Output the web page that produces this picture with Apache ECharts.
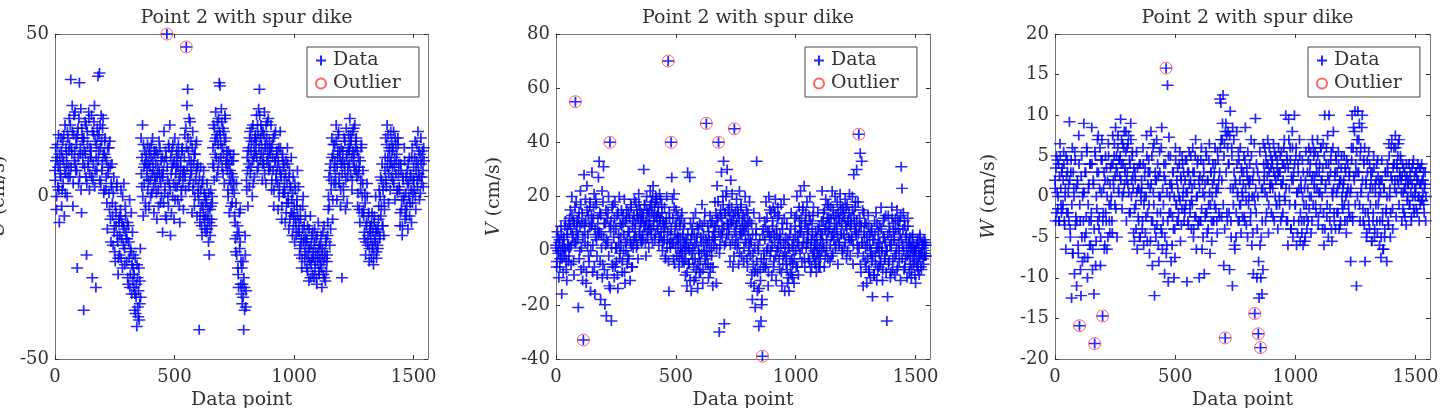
<!DOCTYPE html>
<html>
<head>
<meta charset="utf-8">
<script src="https://cdn.jsdelivr.net/npm/echarts@6/dist/echarts.min.js"></script>
<style>
  html, body { margin: 0; padding: 0; background: #fff; }
  #chart { width: 1442px; height: 408px; }
</style>
</head>
<body>
<div id="chart"></div>
<script>
// values are stored for data points 3i (first array) and 3i+1 (second array)
var STEP = 3;
var xTicks = [0, 500, 1000, 1500];

// U (cm/s)
var uValues = [
  8, 15, -4, 12, 3, 19, -8, 10, 6, 14,
  2, 17, 11, -6, 22, 7, 13, 0, 18, 9,
  24, 6, 36, 15, 28, -3, 19, 11, 26, 8,
  16, -22, 21, 4, 35, 13, 27, -5, 18, 10,
  -35, 14, 23, 6, -18, 20, 9, 26, 2, 15,
  12, 25, -25, 5, 19, 28, 8, -28, 16, 21,
  37, 14, 38, 22, 4, 17, 10, 24, 1, 13,
  18, 2, 11, -10, 7, 15, -4, 9, -14, 3,
  -2, -15, 6, -9, -20, -5, 3, -12, -24, -7,
  -18, -6, 2, -13, -22, -9, 4, -16, -3, -11,
  -20, -8, -27, -14, -1, -24, -17, -30, -11, -22,
  -28, -35, -19, -31, -40, -25, -37, -22, -33, -16,
  18, 3, 22, -6, 9, 14, -2, 11, 6, 16,
  10, -3, 15, 5, 12, 1, 18, 8, -5, 13,
  4, 14, -7, 9, 2, 17, 6, -2, 11, 7,
  -11, 8, 20, 1, -6, 12, 50, 5, -3, 15,
  22, -12, 7, 14, 0, 10, -7, 18, 3, 9,
  12, -1, 16, 5, -8, 9, 2, 14, 7, -4,
  8, 19, 2, 46, 28, 33, 14, 24, 5, 17,
  11, -5, 20, 4, 13, 0, 16, 8, -6, 10,
  3, -41, -8, 9, -3, -12, 5, -6, 1, -10,
  -2, -11, 4, -7, -14, -18, -4, 2, -9, 0,
  10, 22, 5, 17, 26, 12, 19, 8, 24, 35,
  34, 16, 27, 9, 21, 13, 4, 25, 18, 11,
  12, 2, 14, -5, 8, 4, 11, -2, 6, 13,
  1, -8, -17, 4, -12, -22, -28, -5, -14, -27,
  -30, -33, -20, -41, -28, -12, -34, 5, 12, -3,
  15, 3, 20, 9, 17, 0, 22, 12, 6, 18,
  14, 25, 8, 19, 27, 33, 11, 22, 16, 5,
  20, 10, 26, 15, 4, 18, 23, 12, 8, 17,
  13, 22, 2, 16, 8, -3, 19, 11, 5, 14,
  9, -4, 15, 3, 20, 7, -7, 12, 1, 10,
  5, -8, 11, -2, 15, 0, -10, 8, 3, -5,
  -1, -12, 6, -6, -14, 2, -9, -3, 8, -11,
  -8, -18, -4, -15, -22, -10, 0, -13, -20, -6,
  -14, -22, -9, -19, -26, -16, -6, -21, -12, -24,
  -17, -25, -10, -20, -13, -27, -18, -8, -23, -15,
  -21, -12, -28, -16, -24, -9, -19, -26, -14, -20,
  -12, -4, 6, -15, 10, 2, 18, -7, 13, 4,
  16, 7, 22, -1, 12, 19, 4, 14, -3, 10,
  -25, 11, 3, 18, 8, -4, 21, 13, 6, 15,
  14, 24, 7, 17, 2, 20, 11, 9, 22, 15,
  18, 6, -3, 12, 9, -8, 2, 15, -5, 4,
  -4, -13, 1, -18, -9, 4, -15, -6, -20, -11,
  -10, -19, -5, -15, -21, -8, -13, 0, -17, -11,
  -16, -7, 2, -12, 6, -3, 10, -9, 4, -1,
  8, 18, 3, 22, 12, -2, 15, 10, 20, 6,
  14, 5, 20, 9, -1, 16, 11, 2, 18, 7,
  3, -9, 10, -4, -12, 6, -1, 15, -7, 1,
  -6, 8, -10, 4, 12, -2, 6, -8, 15, 1,
  9, 2, 17, -4, 11, 5, 20, 7, -1, 13,
  18, 4, 12, 8, 15
];
var uValuesB = [
  5, 11, 0, 16, 9, 2, 13, 7, 18, -3,
  12, 4, 19, 8, 1, 15, 10, 20, 6, 14,
  16, 22, 9, 13, 20, 4, 25, 14, 10, 18,
  8, 19, 12, 24, 6, 15, 2, 21, 13, 17,
  18, 9, 13, 22, 4, 16, 11, 24, 7, 12,
  14, 6, 20, 10, 23, 3, 17, 12, 8, 19,
  11, 19, 5, 15, 25, 8, 21, 13, 2, 17,
  12, 6, -2, 15, 9, 1, 17, -7, 4, 10,
  -6, 1, -11, -17, -3, -9, 4, -14, -19, -8,
  -12, -4, -19, -8, 0, -15, -10, -21, -6, -13,
  -13, -25, -9, -19, -28, -16, -5, -21, -26, -18,
  -24, -30, -36, -27, -21, -34, -29, -38, -26, -31,
  7, 12, 0, 16, 4, 10, -4, 13, 8, 2,
  5, 13, 9, 0, 16, 7, 11, 3, 14, 6,
  10, 1, 6, 13, -3, 8, 15, 4, 0, 12,
  6, -2, 11, 3, 14, -7, 9, 0, 16, 4,
  2, 12, -5, 9, 16, 4, 11, -1, 7, 14,
  3, 9, 13, -3, 6, 11, 0, 15, 4, 8,
  12, 6, 21, 15, 9, 18, 3, 11, 23, 8,
  7, 15, 2, 10, -3, 13, 5, 17, 9, 1,
  -1, 6, -5, 2, -9, 4, -3, 8, -7, 0,
  -6, -1, -10, -4, 1, -8, -12, -3, -7, -2,
  15, 9, 21, 13, 18, 6, 23, 16, 11, 20,
  19, 12, 23, 15, 7, 20, 17, 24, 10, 14,
  8, 0, 10, 5, 13, -3, 7, 2, 11, 4,
  -6, -13, -2, -18, -9, -24, -11, -16, -4, -20,
  -22, -27, -31, -25, -35, -18, -29, 2, 8, 14,
  10, 18, 7, 14, 21, 11, 4, 16, 13, 19,
  17, 12, 22, 9, 15, 25, 18, 13, 20, 10,
  13, 19, 7, 16, 22, 11, 15, 24, 9, 14,
  9, 15, 5, 12, 18, 2, 11, 20, 7, 13,
  4, 11, 0, 8, 15, 6, -3, 13, 9, 2,
  1, 7, -5, 4, 10, -2, 6, -7, 3, 12,
  -5, 1, -9, -3, 4, -7, -12, -1, -6, 3,
  -11, -16, -7, -13, -19, -3, -14, -9, -17, -12,
  -18, -13, -23, -16, -10, -20, -25, -15, -19, -11,
  -19, -14, -22, -17, -25, -12, -20, -16, -24, -19,
  -15, -22, -18, -11, -20, -25, -17, -13, -23, -18,
  -8, 0, -3, 8, -10, 5, 12, -1, 16, 9,
  11, 4, 17, 9, 14, 20, 6, 12, 2, 15,
  7, 14, 0, 10, 17, 5, 12, -2, 9, 19,
  10, 16, 19, 12, 5, 14, 21, 13, 8, 17,
  9, 14, 1, 7, -4, 11, 5, 16, 0, 8,
  -6, -11, -2, -14, -8, 0, -12, -5, -16, -9,
  -13, -8, -16, -11, -18, -6, -14, -10, -19, -15,
  -10, -3, -13, 0, -6, 5, -9, 2, -12, -4,
  12, 5, 16, 9, 19, 7, 14, 2, 11, 17,
  9, 15, 4, 12, 18, 7, 13, 1, 16, 10,
  2, -5, 8, -1, -9, 5, 0, 11, -4, 6,
  -3, 4, 10, 0, -6, 7, 2, 12, -2, 5,
  5, 12, 0, 8, 16, 3, 10, 14, 6, 1,
  10, 6, 14, 3, 11
];

// V (cm/s)
var vValues = [
  2, -6, 7, 0, -10, 4, -3, 9, -16, 1,
  -8, 5, 1, 11, -4, -11, 8, 2, -2, 12,
  15, -5, 20, 6, 11, -9, 3, 55, 18, 9,
  4, -21, 14, 0, 22, -7, 10, -11, -33, 28,
  7, 19, -12, 24, 2, 13, -4, 16, -15, 9,
  29, -8, 12, 21, -16, 5, 17, -2, 8, 27,
  33, 14, -18, 6, 22, -5, 31, 10, -20, 2,
  -24, 12, 3, 20, -13, 40, 7, -26, 16, -6,
  9, -10, 18, 1, -4, 13, -14, 6, 20, -1,
  5, 15, -8, 10, 0, 19, -12, 3, 12, -5,
  -2, 14, 7, -11, 17, 2, -6, 11, 4, 19,
  8, 18, 1, 13, -3, 21, 6, 15, 10, 3,
  12, 4, 30, 17, 9, -2, 20, 7, 14, 1,
  15, 22, 8, 18, 3, 24, 11, 16, 6, 20,
  19, 9, 14, 2, 21, 12, 5, 17, 0, 11,
  7, 16, -3, 10, 20, 4, 70, -15, 12, 1,
  40, 27, 19, 3, 21, -5, 9, 15, -2, 6,
  2, -6, 11, 5, -1, 14, 0, 8, -4, 3,
  -9, 4, -13, 29, 1, -5, 27, 10, -15, 6,
  -3, 12, -11, 2, 14, -7, 5, -14, 8, -1,
  10, -8, 3, 17, -12, 6, 0, 14, -5, 47,
  -2, 9, -10, 4, 13, -6, 1, 11, -13, 7,
  5, 18, 9, -12, 24, 12, 40, -30, 2, 15,
  29, 8, 20, 33, -27, 14, 3, 22, 30, 10,
  6, 17, -4, 26, 11, 21, -6, 13, 45, 2,
  9, 19, 1, 14, -5, 22, 6, 16, -2, 11,
  13, -4, 8, 20, 3, 15, -6, 10, 0, 18,
  4, -12, 10, -18, -1, 14, -8, -21, 6, 33,
  -15, 2, -28, 12, -7, -26, -20, -39, 8, -3,
  11, -6, 18, 0, 7, -13, 20, 5, -2, 14,
  -9, 9, 16, -4, 3, 19, -11, 6, 12, 1,
  13, -7, 4, 17, -13, 8, -2, 19, -15, 2,
  -5, 10, -12, 1, -15, 6, -8, 14, -3, -10,
  0, -12, 12, 5, -6, 20, 3, -9, 16, 7,
  22, 9, -4, 15, 3, 24, -6, 11, 1, 18,
  6, -3, 13, 20, -8, 4, 10, -1, 16, 0,
  -5, 7, -8, 2, 14, -2, 9, -6, 4, 11,
  22, 3, 14, -6, 8, 19, 0, 12, -3, 17,
  10, -4, 16, 5, 22, -1, 13, 7, 20, 2,
  8, 18, -5, 12, 3, 21, 15, 6, 0, 16,
  14, 1, 19, 9, -3, 17, 11, 5, 21, -2,
  12, 4, 20, -5, 28, 10, 16, 7, 30, 2,
  18, 43, 9, 36, -8, 33, 3, -13, 14, 5,
  -4, 10, -12, 2, 13, -7, 6, -10, 0, 8,
  -17, 4, -9, 11, -2, 14, -11, 1, 7, -6,
  9, -5, 16, 0, -11, 5, 12, -3, 3, -8,
  -26, -17, 13, -4, 7, -10, 2, 16, -7, 10,
  4, -9, 12, -1, 15, -6, 8, 0, 11, -11,
  31, 23, 2, 14, -7, 9, -3, 6, -10, 12,
  3, -8, 5, -2, -10, 1, 6, -5, 0, -9,
  -12, 2, -6, 4, -3, -9, 6, -1, -7, 3,
  1, -5, 4, -2, 2
];
var vValuesB = [
  1, -4, 5, -1, 3, -6, 0, 6, -3, 2,
  4, -2, 9, 0, -7, 6, 2, -4, 10, 1,
  8, 2, 13, 5, -4, 10, 16, 3, 7, 11,
  6, 12, -3, 9, 17, 1, 14, 5, -6, 10,
  3, 11, -8, 15, 6, -2, 9, 18, 0, 13,
  10, 2, 16, -6, 8, 19, 4, -9, 12, 6,
  7, -4, 13, 1, -10, 18, 5, -7, 10, 15,
  4, -9, 14, -2, 9, -14, 11, 1, -5, 17,
  5, 12, -6, 8, 1, -9, 14, 3, -3, 10,
  2, 9, -4, 13, 6, -8, 11, 0, 15, 4,
  7, -3, 12, 3, 16, -6, 9, 1, 13, 5,
  10, 5, 15, 2, 12, 17, 7, 11, 4, 14,
  6, 13, 9, 17, 3, 11, 15, 5, 10, 8,
  11, 17, 6, 14, 20, 9, 13, 4, 18, 12,
  13, 8, 16, 5, 11, 19, 7, 14, 3, 10,
  4, 9, -2, 12, 1, 7, -4, 14, 3, 6,
  8, 3, 12, -3, 16, 6, 1, 10, 4, 13,
  5, -2, 9, 1, 12, -4, 6, 3, 10, 0,
  -3, 2, -8, 6, -5, 0, -11, 4, -1, 8,
  1, -6, 6, -3, -10, 3, 9, -5, 0, -8,
  -4, 5, -1, 9, -7, 2, 11, -3, 4, 0,
  3, -5, 7, 0, -8, 10, -2, 5, -6, 2,
  9, 4, 14, 1, 11, 18, 7, -1, 13, 6,
  12, 5, 17, 9, 2, 14, 20, 6, 10, 15,
  8, 13, 2, 10, 16, 4, 11, -2, 7, 14,
  5, 10, 15, 3, 12, -1, 8, 17, 6, 9,
  7, 1, 12, 4, 9, -3, 14, 6, 2, 11,
  -2, 3, -9, 6, -5, -13, 1, -7, 8, -4,
  -8, 0, -14, 4, -11, -3, -18, 6, -6, -1,
  4, 9, -5, 12, 1, -8, 7, 15, 0, 5,
  2, 11, -6, 6, 14, -2, 8, 0, 16, 4,
  -3, 6, 1, -8, 10, -5, 3, 12, -1, 5,
  -2, -7, 4, -10, 1, -4, 8, -9, 2, -5,
  4, -3, 9, 0, 13, -6, 6, 2, 11, -1,
  7, 12, 1, 16, 5, -3, 10, 14, 3, 8,
  3, 8, -4, 11, 1, -6, 6, 13, -2, 4,
  2, -4, 5, -1, 8, -6, 1, -3, 6, 0,
  6, 11, 1, 15, -2, 9, 4, 17, 7, 12,
  8, 2, 12, -2, 6, 15, 4, 10, 1, 13,
  9, 5, 14, 2, 11, 17, 6, 10, -1, 13,
  6, 12, 3, 16, 8, 0, 11, 14, 4, 9,
  10, 5, 15, 2, 13, 8, 18, 6, 11, -1,
  6, 1, 12, -5, 9, 3, 15, -2, 7, 10,
  1, -6, 5, -3, 9, -8, 2, -1, 7, -4,
  -2, 4, -9, 6, -5, 1, 10, -7, 3, -1,
  3, -4, 8, 1, -7, 11, 5, -2, 13, 0,
  0, 6, -5, 9, 2, -8, 4, 12, -3, 7,
  5, -2, 8, 1, -7, 11, 3, -4, 6, 13,
  4, -3, 8, 0, 11, -6, 5, 1, -2, 9,
  -1, 3, -5, 1, -7, 5, -2, 2, -4, 0,
  0, -4, 3, -7, 1, -2, 5, -6, -1, 2,
  -3, 2, -1, 3, -2
];

// W (cm/s)
var wValues = [
  2, -3, 5, 0.5, -1.5, 4, -3, 6.5, 1, -2,
  3.5, -1, 5.5, -3, 0, -6.5, 2.5, 4.5, -2, 1.5,
  9.2, -4, 3, -12.5, 6, -7, 1, -9.5, 4.5, -2.5,
  -11, 2, -6, 7.5, -15.9, -3, -12.2, 5, -8, 0.5,
  9, -7.5, 3, -4.5, 6, -10, -1, 1.5, -6, 4,
  -3, 8.5, -9, 2, -12, -18.1, 5, -5.5, -1.5, 7,
  7.5, -4, 1, -8.5, 4.5, 7, -14.7, -2, 3, -6,
  5, -3, -6.5, 2, 6.5, -1, -4.5, 3.5, 0, -3,
  7.5, 2, 5, -1, 8.5, 3.5, -5, 6, 1, 4.5,
  2.5, 9.5, 4, -1.5, 6.5, 0.5, 8, 3, 5.5, -3,
  6, 1.5, 7.5, -2, 4, 9, 0, 5, 2.5, -4.5,
  -5.5, 3, -1, 5.5, -6.5, 1, -3, 4, -5, 0.5,
  2, -4, 6, -6, 0, 3.5, -2.5, 7.5, -5.5, 1.5,
  4.5, -7, 1, 8, -3, -8.5, 6, -1, -12.2, 3,
  -5, 7, -2, 2.5, -8, 5.5, 0, -4, 8.5, -6.5,
  -3, 4, -9.5, 2, 15.8, -6, 13.7, -10.5, 7.3, 0,
  5, -8, 1, -2.5, 3, -10, -4, 6, -1, 2,
  3.5, -3, 0, 5.5, -5.5, 2, -1.5, 4, 1, -3,
  -2, 4.5, 0.5, -10.5, 3, -3.5, 5.5, -1, 2, -4,
  1, 6, -5, 3, -2.5, 7, -6.5, 0, 4.5, -3,
  -10, 2.5, -3, 6, -6.5, 0.5, 4, -9.5, 1.5, -2,
  5, -4.5, 2, -1, 6.5, -7, 3, -3, 0, 4,
  -3, 3, 6, -1.5, 1, -4.5, 4.5, 2, -2.5, 12,
  11.5, -2.5, 7, 12.5, -8.5, 6.5, -17.4, 9, 7.5, -3,
  8, 4, -9, 10.5, -3, 6, -11, 1, 7, -6,
  2, -5, 8, 0.5, -3, 4.5, -1, 6, -4.5, 3,
  -2.5, 1.5, 5, -3, 8.5, -0.5, 3.5, -5, 2, 0,
  4, -3, 7, -6, 2, -9.5, 0, -14.4, 9.6, -2,
  -10, 3, -16.9, -12.5, 5.5, -18.6, -5, -12, 1, 6.5,
  2, 6, -3, 4, 0, 7, -4.5, 3, 1.5, 5,
  -2, 4.5, 1, 6.5, -3, 2.5, 5, -1, 3.5, -4,
  6, 0, 3, -3, 5.5, 1.5, -2, 4, 7, -0.5,
  10, -3, 4.5, -6, 9.5, 1, 6, -4, 2.5, 8,
  -5, 3, 10, -1, 5, -6, 0.5, 4, -3, 7,
  -5.5, 2, -3, 4.5, -6, -1, 1, -5, 5.5, -2.5,
  3, -3, 6, 0, 4, -4.5, 2, 7, -1, 5,
  1, 5.5, -2, 3, 7, -3.5, 0.5, 4, -1.5, 6,
  2, -4, 6.5, -6, 10, 1, 4, -2.5, 7.5, -5,
  10, -3, 3, 5.5, -5.5, 0, 8, -2, 2.5, -4,
  4.5, -2, 1, 5.5, -4, 2, -3, 3.5, 0, -1.5,
  1.5, 5, -3, 3, -4.5, 0.5, 4, -1, 2.5, -2.5,
  -8, 6, 10, -3, 8.5, 2, 10.5, 4, -11, 7,
  10.5, 3, 9, -3, 6, 1, 10, -1.5, 4.5, -3.5,
  -8, 2, -5, 4.5, -2, 5.5, -4, 1, 3, -5.5,
  3, -3, 5, -5, 1.5, -1, 4, -4.5, 2.5, 0,
  -6, 2, -7.5, 4.5, -3, -6.5, 1, -5, 3, -2,
  -8, 4, -3, 6.5, 0, -5, 2.5, 7, -1.5, 3.5,
  6, 1, 7.5, -2.5, 4, 2, 6.5, -1, 3, 5,
  2, -3, 4, 0.5, -2, 3, 1, -3.5, 2.5, 0,
  1.5, 4, -1, 2, -3, 3.5, 0, 4.5, -2, 1,
  3, -1.5, 2, 4, 0, -3, 1.5, 3.5, -0.5, 2,
  0.5, 3, -2, 1.5, -3
];
var wValuesB = [
  1, 3.5, -2, 4.5, 0, -3, 2.5, 5, -1, 3,
  -1.5, 2, 4, -3.5, 1, 5, -2, 3, 0.5, -3,
  2, -5, 4.5, -1, -7, 3, 0, 5.5, -3.5, 1,
  -3, 1.5, -7, 4, -1, -9, 2.5, -5, 0, -3,
  0.5, -5, 3, -2.5, 5.5, -7.5, 1, -3, 4, -6,
  -2, 4, -6.5, 1.5, -4, 5.5, -8.5, 0, 3, -3,
  3, -2.5, 6, -5, 0.5, 4.5, -3, 1, -6.5, 2,
  -2, 3.5, 0, -5, 5, -3, 1.5, -1, 4, -4.5,
  4, 1, 6.5, 2.5, -1.5, 5, 3, 7.5, 0.5, 4.5,
  5, 2, 7, 0, 4, 6, 1.5, 3.5, 8, 2,
  3, 6.5, 0.5, 4.5, -2, 7, 2, 5.5, 1, 3.5,
  -1.5, 2, -4, 0.5, 3.5, -2.5, 1, -5, 4, -0.5,
  1, -3, 4, -1, 2.5, -4.5, 0, 5, -2, 3,
  -1, 3, -5.5, 1.5, 5, -3, 0.5, 6.5, -4, 2,
  2, -3.5, 4, -6, 0, 3, -2, 6, -4.5, 1,
  -1, 2.5, -5, 4, -7, 0.5, -3, 5, -2, 1.5,
  -2, 1.5, -6, 3, -4, 0, -7.5, 4.5, -1, -3,
  1, -2, 4, -0.5, 2.5, -3.5, 5, 0, 3, -1.5,
  2, -1, 4.5, 0.5, -3, 3, 1.5, -2, 5, -0.5,
  -1, 3, -4, 1.5, 5, -2.5, 0, 4, -3.5, 2,
  1, -3, 4.5, -1.5, 2, -5, 3, 0, -2.5, 5.5,
  -2, 2, -4, 4.5, 0.5, -1, 3, -5.5, 1.5, -3,
  2, -1, 4, 0.5, -3, 5.5, 1, -2, 3, 6,
  7, 2, 9, -1, 5, -4, 8, 3, -2, 6,
  4, -2, 7.5, 1, -5, 5, 8.5, -1, 3, -6.5,
  1.5, -2, 4, 0, 5.5, -3, 2, -1, 3.5, 0.5,
  0, 3, -2.5, 4.5, 1, -3.5, 2.5, 5.5, -1, 1.5,
  2, -2, 5, 0, -4.5, 3, 6.5, -1, 1, 4,
  -4, 0, -8, 2, -6, -10, 1, -3, -9, 4,
  3, 0.5, 5, -2, 2.5, 4, -1, 6, 1, 3.5,
  1.5, 4, -2.5, 3, 5.5, 0, 2, -1, 4.5, 2.5,
  3, -1, 5, 1.5, -2.5, 4, 2, 6, 0, 3.5,
  1, 5, -3, 3.5, 7, -1, 4.5, -4, 2, 6,
  2, -3, 4, -1, 6, 0.5, -4.5, 3, 1, 5,
  -2, 1, -4.5, 0, 3, -3, -5.5, 2, -1, -4,
  1, 4.5, -1.5, 3, 5.5, 0, -3, 2.5, 6, 1.5,
  2.5, -1, 4, 1, 5, -2.5, 3, 0.5, 6, 2,
  0, 3.5, -2, 5, -4, 1.5, 6, -1, 2.5, 4,
  2, -1.5, 4.5, -4, 0.5, 6, 1, -3, 3, 5,
  0.5, 3, -2, 4, 1.5, -3.5, 2, 5, -1, 1,
  2, -1, 3.5, 0, 4.5, -3, 1, -2, 3, 0.5,
  1, 4.5, -2.5, 6, 2.5, 8, -1, 3, 5.5, 0,
  3, 7, -1, 5, 0.5, 8.5, 2, -3, 4, 6,
  -2, 1.5, -4.5, 3, 0, -3, 4, -1, 2, -5.5,
  1, -2, 3.5, -4, 0.5, 2, -3, 4.5, -1, 1.5,
  -3, 0.5, -5, 2, -2, -6.5, 1, -4, 3, -1.5,
  0, 3, -3.5, 5, 1, -2, 6, 2, -4, 4,
  4, 2, 6, 0.5, 3.5, 5, 1.5, 7, 2.5, 4.5,
  0.5, 2.5, -1.5, 3.5, 1, -2.5, 2, 4, -0.5, 1.5,
  2, -1, 3, 0.5, -2.5, 1.5, 4, -1.5, 2.5, 0,
  1, 3, -2, 2, 0, 3.5, -1, 1.5, 4, -0.5,
  2, -1, 1, 3, 0
];

// outliers (data point, value)
var uOutX = [468, 549];
var uOutY = [50, 46];
var vOutX = [81, 114, 225, 468, 480, 627, 678, 744, 861, 1263];
var vOutY = [55, -33, 40, 70, 40, 47, 40, 45, -39, 43];
var wOutX = [102, 165, 198, 462, 708, 831, 846, 855];
var wOutY = [-15.9, -18.1, -14.7, 15.8, -17.4, -14.4, -16.9, -18.6];

var FONT = 'DejaVu Serif';
var TXT = '#333';
var PLUS = 'path://M5,0L5,10M0,5L10,5';

var panels = [
  {vals: uValues, valsB: uValuesB, ox: uOutX, oy: uOutY, min: -50, max: 50, interval: 50, letter: 'U', nameGap: 46,
   grid: {left: 55, top: 34, width: 373, height: 325}, legendLeft: 307},
  {vals: vValues, valsB: vValuesB, ox: vOutX, oy: vOutY, min: -40, max: 80, interval: 20, letter: 'V', nameGap: 52,
   grid: {left: 556, top: 34, width: 374, height: 325}, legendLeft: 805},
  {vals: wValues, valsB: wValuesB, ox: wOutX, oy: wOutY, min: -20, max: 20, interval: 5, letter: 'W', nameGap: 56,
   grid: {left: 1055, top: 34, width: 375, height: 325}, legendLeft: 1308}
];

var option = {
  animation: false,
  backgroundColor: '#fff',
  title: [], grid: [], xAxis: [], yAxis: [], legend: [], series: []
};

function plain(v) { return String(v); }

panels.forEach(function (p, k) {
  var g = p.grid;
  g.outerBoundsMode = 'none';
  option.grid.push(g);
  option.title.push({
    text: 'Point 2 with spur dike',
    left: g.left + g.width / 2,
    top: 4,
    textAlign: 'center',
    textStyle: {fontFamily: FONT, fontSize: 19, fontWeight: 'normal', color: TXT}
  });

  var lineStyle = {color: '#777', width: 1};
  var tickStyle = {color: '#333', width: 1};
  // bottom / left axes with labels
  option.xAxis.push({
    gridIndex: k, type: 'value', min: 0, max: 1560, position: 'bottom',
    axisLine: {show: true, onZero: false, lineStyle: lineStyle},
    axisTick: {inside: true, length: 4, customValues: xTicks, lineStyle: tickStyle},
    axisLabel: {customValues: xTicks, formatter: plain, fontFamily: FONT, fontSize: 18, color: TXT, margin: 9},
    splitLine: {show: false},
    name: 'Data point', nameLocation: 'middle', nameGap: 31,
    nameTextStyle: {fontFamily: FONT, fontSize: 19, color: TXT}
  });
  // top / right copies just for the box and inner ticks
  option.xAxis.push({
    gridIndex: k, type: 'value', min: 0, max: 1560, position: 'top',
    axisLine: {show: true, onZero: false, lineStyle: lineStyle},
    axisTick: {inside: true, length: 4, customValues: xTicks, lineStyle: tickStyle},
    axisLabel: {show: false}, splitLine: {show: false}
  });
  option.yAxis.push({
    gridIndex: k, type: 'value', min: p.min, max: p.max, interval: p.interval, position: 'left',
    axisLine: {show: true, onZero: false, lineStyle: lineStyle},
    axisTick: {inside: true, length: 4, lineStyle: tickStyle},
    axisLabel: {formatter: plain, fontFamily: FONT, fontSize: 18, color: TXT, margin: 6},
    splitLine: {show: false},
    name: '{i|' + p.letter + '} (cm/s)', nameLocation: 'middle', nameGap: p.nameGap,
    nameTextStyle: {fontFamily: FONT, fontSize: 19, color: TXT,
      rich: {i: {fontFamily: FONT, fontSize: 19, fontStyle: 'italic', color: TXT}}}
  });
  option.yAxis.push({
    gridIndex: k, type: 'value', min: p.min, max: p.max, interval: p.interval, position: 'right',
    axisLine: {show: true, onZero: false, lineStyle: lineStyle},
    axisTick: {inside: true, length: 4, lineStyle: tickStyle},
    axisLabel: {show: false}, splitLine: {show: false}
  });

  var pts = p.vals.map(function (v, i) { return [i * STEP, v]; })
    .concat(p.valsB.map(function (v, i) { return [i * STEP + 1, v]; }));

  option.series.push({
    name: 'Data', type: 'scatter', xAxisIndex: 2 * k, yAxisIndex: 2 * k,
    symbol: PLUS, symbolSize: [12, 10], clip: false, silent: true,
    itemStyle: {color: 'rgba(0,0,0,0)', borderColor: '#0000ff', borderWidth: 1.6, opacity: 0.85},
    data: pts
  });
  option.series.push({
    name: 'Outlier', type: 'scatter', xAxisIndex: 2 * k, yAxisIndex: 2 * k, z: 3,
    symbol: 'circle', symbolSize: 12, clip: false, silent: true,
    itemStyle: {color: 'rgba(0,0,0,0)', borderColor: '#ff3b3b', borderWidth: 1},
    data: p.ox.map(function (x, i) { return [x, p.oy[i]]; })
  });

  option.legend.push({
    left: p.legendLeft, top: 47, orient: 'vertical',
    data: ['Data', 'Outlier'], selectedMode: false,
    backgroundColor: '#fff', borderColor: '#444', borderWidth: 1,
    padding: [4, 18, 4, 8], itemGap: 4, itemWidth: 14, itemHeight: 10,
    textStyle: {fontFamily: FONT, fontSize: 19, color: TXT}
  });
});

var chart = echarts.init(document.getElementById('chart'));
chart.setOption(option);
</script>
</body>
</html>
